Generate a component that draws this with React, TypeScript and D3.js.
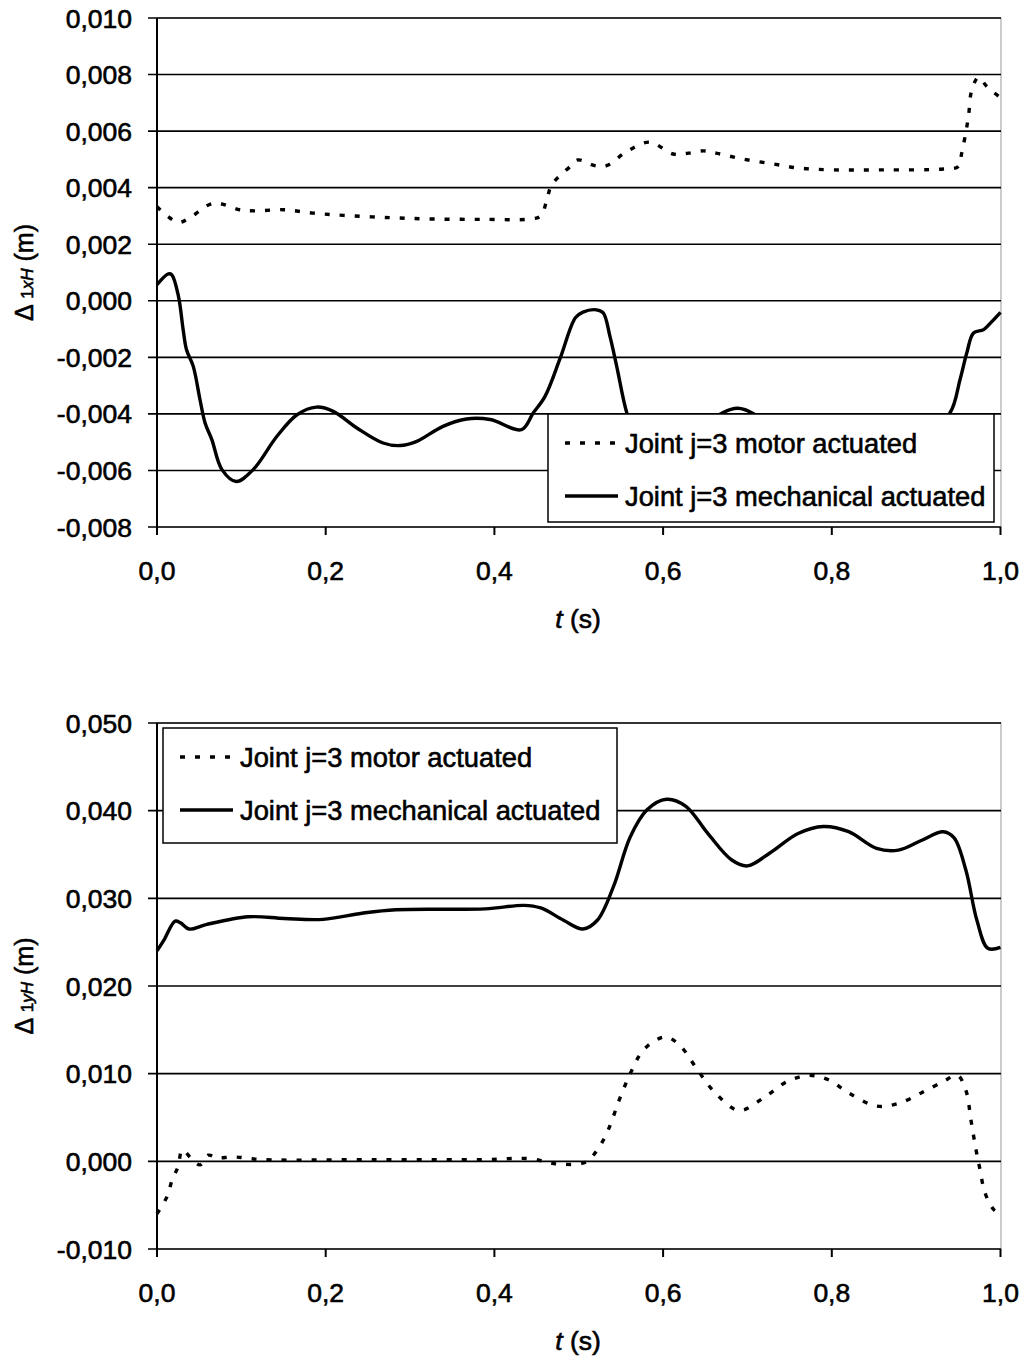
import React from "react";
import * as d3 from "d3";

// time axis (s)
const tTicks = [0, 0.2, 0.4, 0.6, 0.8, 1.0];

// upper chart: Δ1xH (m)
const xTicks = [-0.008, -0.006, -0.004, -0.002, 0, 0.002, 0.004, 0.006, 0.008, 0.010];
const xMotor: [number, number][] = [
  [0, 0.00333], [0.025, 0.00277], [0.039, 0.00294], [0.067, 0.00345], [0.098, 0.00322],
  [0.116, 0.00318], [0.15, 0.00322], [0.185, 0.0031], [0.221, 0.00302], [0.276, 0.00294],
  [0.328, 0.00289], [0.387, 0.00288], [0.442, 0.00289], [0.455, 0.003], [0.462, 0.00355],
  [0.468, 0.0041], [0.49, 0.00475], [0.499, 0.00498], [0.519, 0.00478], [0.533, 0.00478],
  [0.557, 0.00528], [0.584, 0.00561], [0.612, 0.00519], [0.63, 0.00522], [0.648, 0.0053],
  [0.663, 0.00522], [0.695, 0.00501], [0.73, 0.00484], [0.762, 0.00469], [0.802, 0.00463],
  [0.861, 0.00463], [0.932, 0.00466], [0.95, 0.00475], [0.954, 0.00522], [0.958, 0.00581],
  [0.962, 0.00651], [0.966, 0.00746], [0.974, 0.0079], [0.984, 0.00757], [1.0, 0.00718],
];
const xMech: [number, number][] = [
  [0, 0.00057], [0.0135, 0.00095], [0.0175, 0.00092], [0.0255, 0.00015], [0.031, -0.00102],
  [0.035, -0.00173], [0.043, -0.00232], [0.051, -0.0035], [0.057, -0.00432], [0.065, -0.00491],
  [0.077, -0.00597], [0.094, -0.00639], [0.114, -0.00597], [0.142, -0.0048], [0.166, -0.00403],
  [0.189, -0.00376], [0.209, -0.00391], [0.237, -0.0045], [0.268, -0.00503], [0.288, -0.00512],
  [0.308, -0.00497], [0.339, -0.00444], [0.367, -0.00418], [0.395, -0.0042], [0.432, -0.00456],
  [0.446, -0.00397], [0.46, -0.00338], [0.478, -0.00203], [0.496, -0.0006], [0.505, -0.0004],
  [0.521, -0.00032], [0.529, -0.00043], [0.537, -0.00126], [0.545, -0.00232], [0.557, -0.00397],
  [0.57, -0.005], [0.6, -0.0052], [0.64, -0.0045], [0.688, -0.0038], [0.72, -0.0042],
  [0.78, -0.005], [0.85, -0.0052], [0.91, -0.0047], [0.94, -0.00397], [0.952, -0.00279],
  [0.96, -0.00185], [0.968, -0.00114], [0.98, -0.00102], [0.99, -0.00073], [1.0, -0.00041],
];

// lower chart: Δ1yH (m)
const yTicks = [-0.01, 0, 0.01, 0.02, 0.03, 0.04, 0.05];
const yMotor: [number, number][] = [
  [0, -0.006], [0.012, -0.004], [0.018, -0.0021], [0.025, -0.0006], [0.03, 0.0013],
  [0.041, 0.0003], [0.051, -0.0004], [0.061, 0.0007], [0.071, 0.0004], [0.091, 0.0005],
  [0.124, 0.0002], [0.257, 0.0002], [0.389, 0.0002], [0.442, 0.0003], [0.475, -0.0003],
  [0.508, -0.0001], [0.522, 0.0013], [0.535, 0.0036], [0.548, 0.007], [0.561, 0.01],
  [0.575, 0.0125], [0.591, 0.0138], [0.604, 0.0142], [0.621, 0.0131], [0.641, 0.0104],
  [0.661, 0.0079], [0.69, 0.0058], [0.72, 0.0073], [0.747, 0.0091], [0.773, 0.0098],
  [0.796, 0.0093], [0.82, 0.0078], [0.853, 0.0063], [0.879, 0.0066], [0.906, 0.0078],
  [0.932, 0.0091], [0.949, 0.0098], [0.959, 0.0081], [0.965, 0.0047], [0.971, 0.0013],
  [0.975, -0.0006], [0.982, -0.0037], [0.992, -0.0055], [1.0, -0.006],
];
const yMech: [number, number][] = [
  [0, 0.024], [0.008, 0.0252], [0.0215, 0.0274], [0.028, 0.0272], [0.038, 0.0265],
  [0.058, 0.027], [0.108, 0.0279], [0.151, 0.0277], [0.197, 0.0276], [0.243, 0.0283],
  [0.283, 0.0287], [0.389, 0.0288], [0.435, 0.0292], [0.455, 0.0289], [0.482, 0.0275],
  [0.505, 0.0265], [0.522, 0.0275], [0.541, 0.0313], [0.561, 0.037], [0.581, 0.0401],
  [0.604, 0.0413], [0.627, 0.0405], [0.653, 0.0374], [0.681, 0.0344], [0.7, 0.0337],
  [0.727, 0.0352], [0.76, 0.0374], [0.79, 0.0382], [0.82, 0.0376], [0.853, 0.0357],
  [0.879, 0.0355], [0.906, 0.0366], [0.932, 0.0376], [0.945, 0.0369], [0.959, 0.0332],
  [0.972, 0.0275], [0.985, 0.0243], [1.0, 0.0244],
];

const legendLabels = ["Joint j=3 motor actuated", "Joint j=3 mechanical actuated"];

const FONT = "'Liberation Sans', Arial, sans-serif";
const DASH = "5,10";
// scanned text looks a bit heavier than plain regular
const ink = { fill: "#000", stroke: "#000", strokeWidth: 0.6 };

const comma = (d: number, digits: number) => d.toFixed(digits).replace(".", ",");

function Chart(props) {
  const { top, bottom, ticks, motor, mech, sub, legend } = props;
  const left = 157, right = 1001;
  const xScale = d3.scaleLinear().domain([0, 1]).range([left, 1000.5]);
  const yScale = d3.scaleLinear().domain([ticks[0], ticks[ticks.length - 1]]).range([bottom, top]);
  const line = d3.line<[number, number]>()
    .x(d => xScale(d[0]))
    .y(d => yScale(d[1]))
    .curve(d3.curveCatmullRom.alpha(0.5));
  const midY = (top + bottom) / 2;

  return (
    <g fontFamily={FONT}>
      <rect x={left} y={top} width={right - left} height={bottom - top} fill="none" stroke="#999" strokeWidth={1} />
      {ticks.map(v => (
        <g key={v}>
          <line x1={left - 9} x2={right} y1={yScale(v)} y2={yScale(v)} stroke="#000" strokeWidth={1.6} />
          <text x={132} y={yScale(v)} dy="0.36em" textAnchor="end" fontSize={26.5} {...ink}>{comma(v, 3)}</text>
        </g>
      ))}
      <line x1={left} x2={left} y1={top} y2={bottom + 8} stroke="#000" strokeWidth={2} />
      {tTicks.map(t => (
        <g key={t}>
          <line x1={xScale(t)} x2={xScale(t)} y1={bottom} y2={bottom + 8} stroke="#000" strokeWidth={2} />
          <text x={xScale(t)} y={bottom + 53} textAnchor="middle" fontSize={26.5} {...ink}>{comma(t, 1)}</text>
        </g>
      ))}
      <text x={578} y={bottom + 101} textAnchor="middle" fontSize={26.5} {...ink}>
        <tspan fontStyle="italic">t</tspan> (s)
      </text>
      <text transform={`translate(33,${midY}) rotate(-90)`} textAnchor="middle" fontSize={25} {...ink}>
        Δ <tspan fontSize={17}>1</tspan><tspan fontSize={17} fontStyle="italic">{sub}</tspan> (m)
      </text>

      <path d={line(motor) || ""} fill="none" stroke="#000" strokeWidth={3.4} strokeDasharray={DASH} />
      <path d={line(mech) || ""} fill="none" stroke="#000" strokeWidth={3.4} />

      <g>
        <rect x={legend.x} y={legend.y} width={legend.w} height={legend.h} fill="#fff" stroke="#000" strokeWidth={1.5} />
        <line x1={legend.x + 17} x2={legend.x + 70} y1={legend.y + 29} y2={legend.y + 29}
          stroke="#000" strokeWidth={3.4} strokeDasharray={DASH} />
        <text x={legend.x + 77} y={legend.y + 29} dy="0.36em" fontSize={27.3} {...ink}>{legendLabels[0]}</text>
        <line x1={legend.x + 17} x2={legend.x + 70} y1={legend.y + 82} y2={legend.y + 82}
          stroke="#000" strokeWidth={3.4} />
        <text x={legend.x + 77} y={legend.y + 82} dy="0.36em" fontSize={27.3} {...ink}>{legendLabels[1]}</text>
      </g>
    </g>
  );
}

export default function App() {
  return (
    <svg width={1024} height={1358} style={{ position: "absolute", left: 0, top: 0, background: "#fff" }}>
      <Chart top={18} bottom={527} ticks={xTicks} motor={xMotor} mech={xMech} sub="xH"
        legend={{ x: 548, y: 414, w: 446, h: 108 }} />
      <Chart top={723} bottom={1249} ticks={yTicks} motor={yMotor} mech={yMech} sub="yH"
        legend={{ x: 163, y: 728, w: 454, h: 115 }} />
    </svg>
  );
}
